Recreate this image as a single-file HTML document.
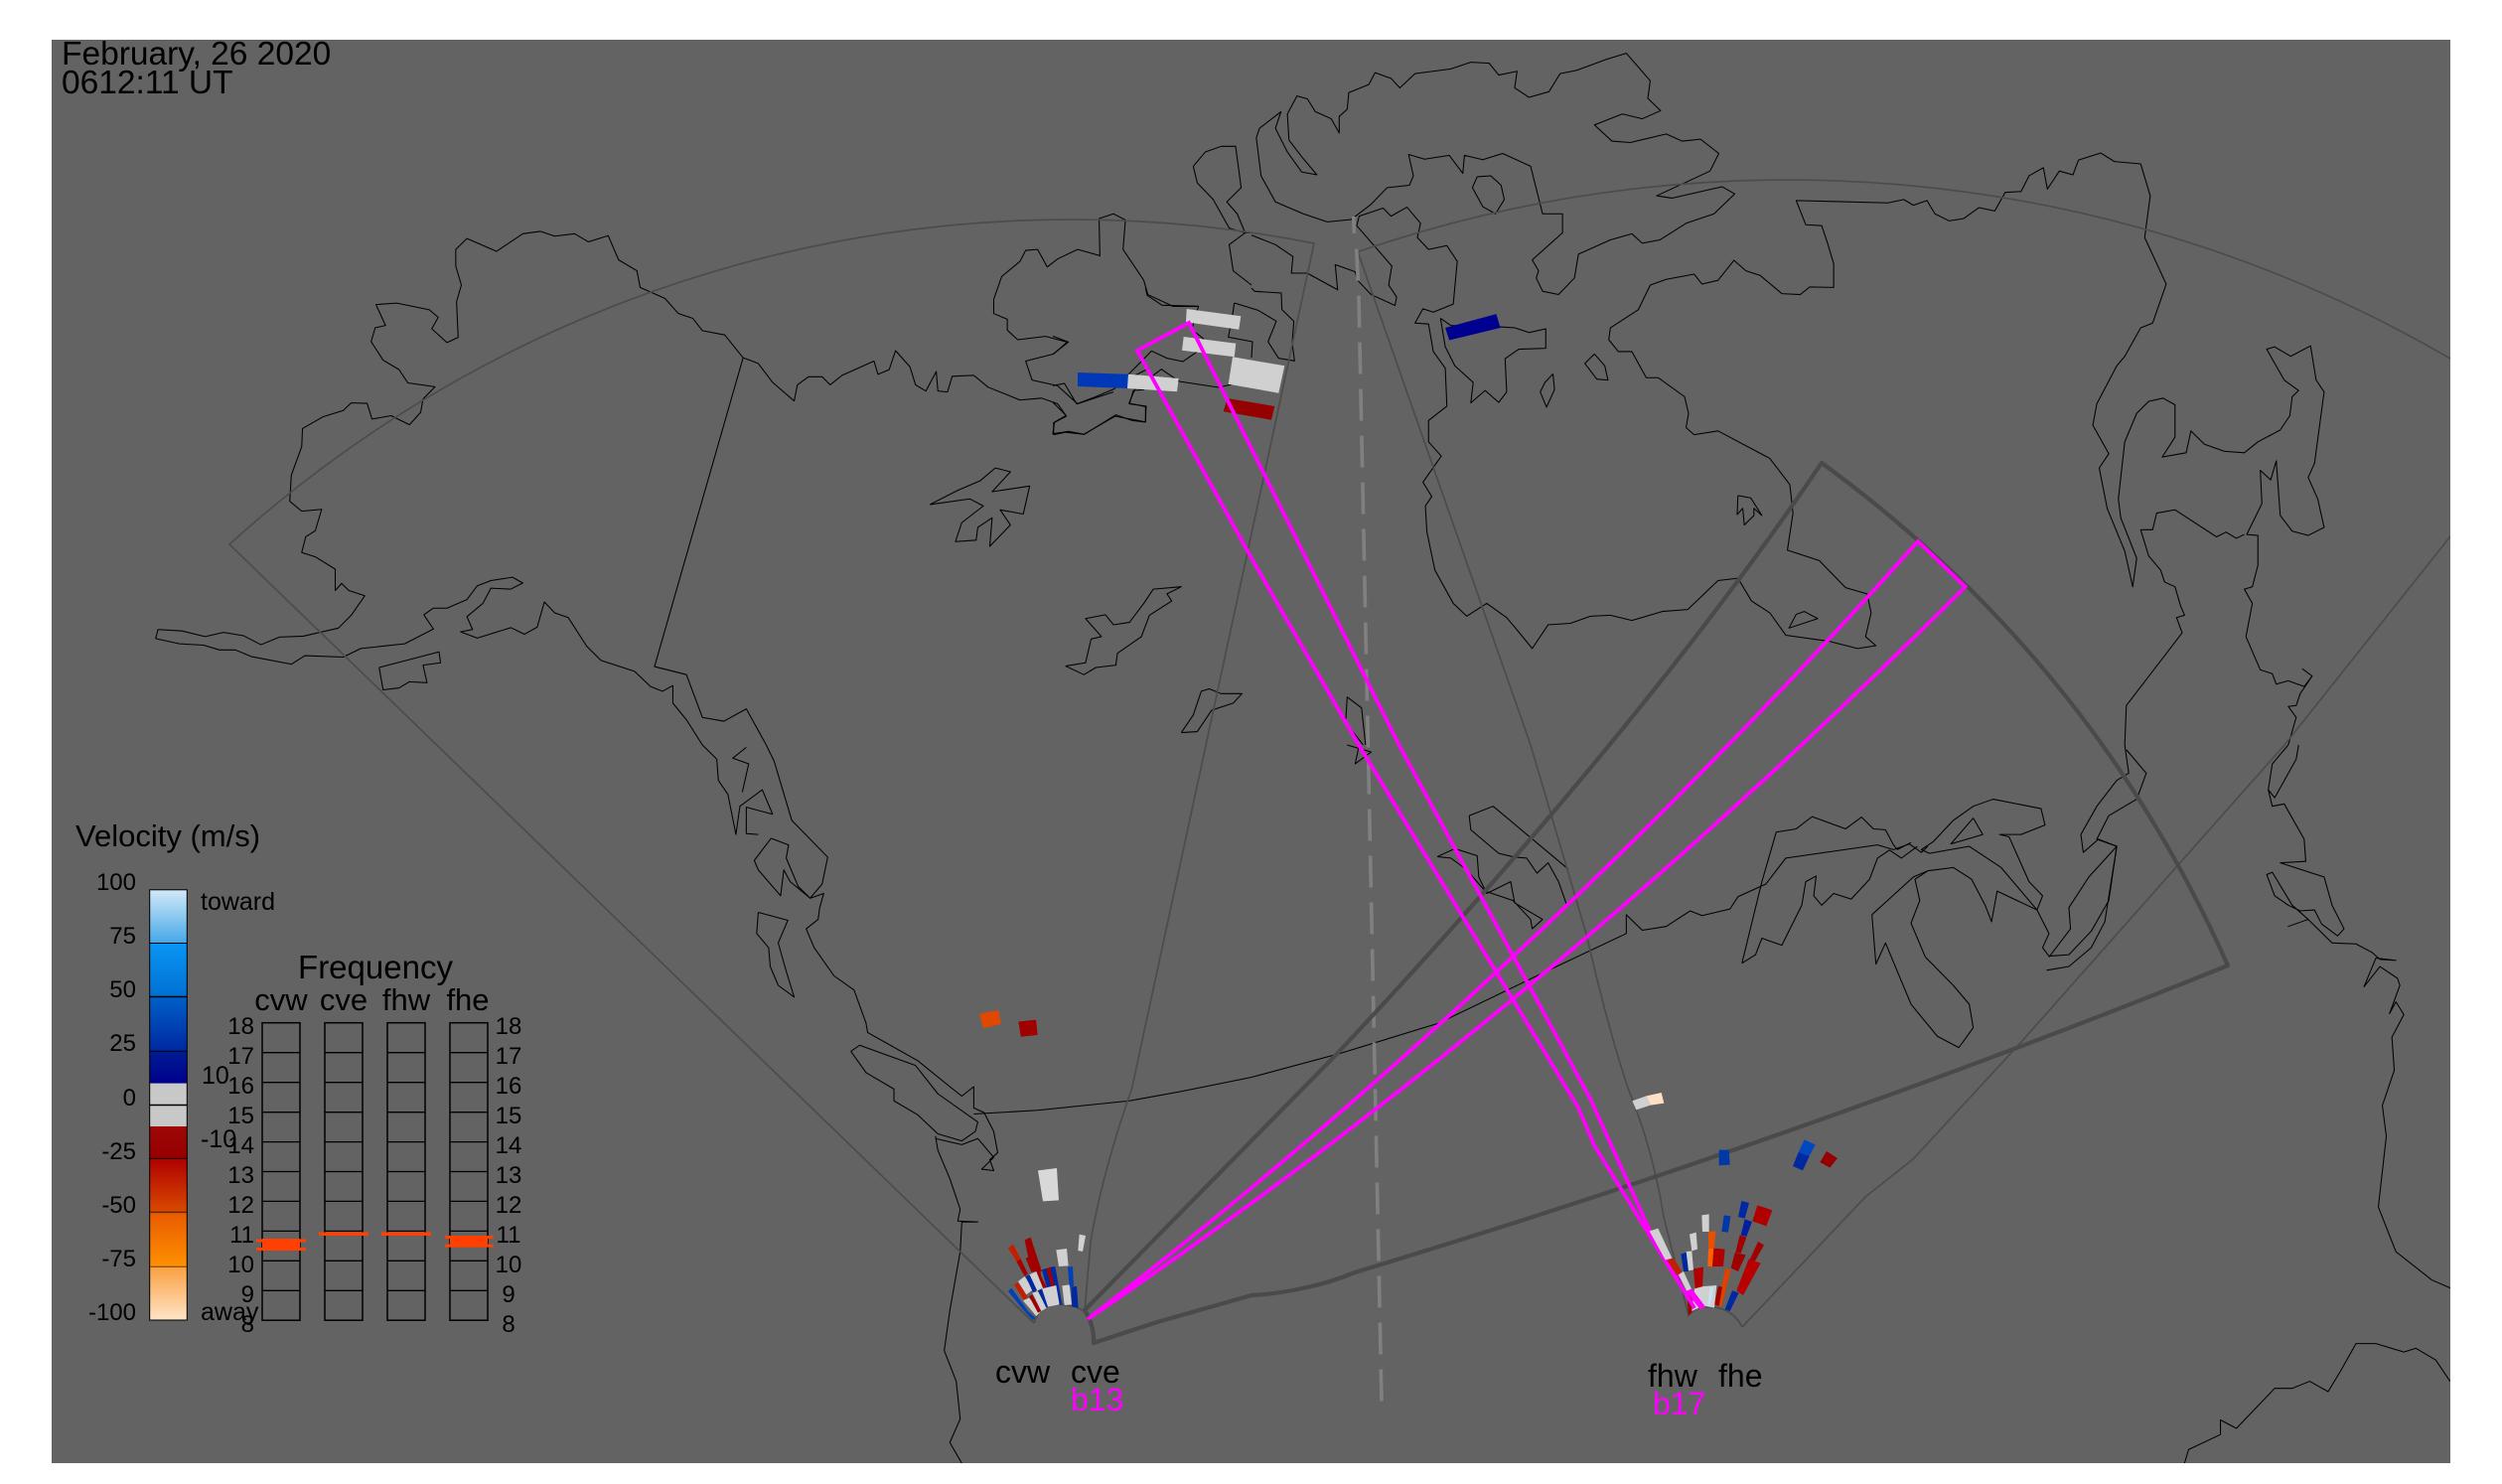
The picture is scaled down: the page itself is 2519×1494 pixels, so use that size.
<!DOCTYPE html>
<html><head><meta charset="utf-8"><title>February 26 2020</title>
<style>
html,body{margin:0;padding:0;background:#fff}
svg{display:block}
text{font-family:"Liberation Sans",sans-serif;fill:#000}
polyline{fill:none;stroke:#000;stroke-width:1.05;vector-effect:non-scaling-stroke;stroke-linejoin:round}
.t path{fill:none;stroke:#4c4c4c;stroke-width:1.7}
.k path{fill:none;stroke:#4a4a4a;stroke-width:4.2;stroke-linejoin:round}
.m path{fill:none;stroke:#ff00ff;stroke-width:3.8;stroke-linejoin:miter}
.g{fill:#d0d0d0}.b1{fill:#0028a0}.b2{fill:#0040b8}.r1{fill:#a00000}.r2{fill:#b80000}.o1{fill:#e04800}
</style></head><body>
<svg width="2519" height="1494" viewBox="0 0 2519 1494" xmlns="http://www.w3.org/2000/svg">
<defs>
<clipPath id="c"><rect x="52" y="40" width="2415" height="1433"/></clipPath>
<linearGradient id="g1" x1="0" y1="0" x2="0" y2="1"><stop offset="0" stop-color="#d2e9f8"/><stop offset="1" stop-color="#45a8e8"/></linearGradient>
<linearGradient id="g2" x1="0" y1="0" x2="0" y2="1"><stop offset="0" stop-color="#0a96f5"/><stop offset="1" stop-color="#0070d2"/></linearGradient>
<linearGradient id="g3" x1="0" y1="0" x2="0" y2="1"><stop offset="0" stop-color="#0060c8"/><stop offset="1" stop-color="#0028a0"/></linearGradient>
<linearGradient id="g4" x1="0" y1="0" x2="0" y2="1"><stop offset="0" stop-color="#001c94"/><stop offset="1" stop-color="#00008c"/></linearGradient>
<linearGradient id="g5" x1="0" y1="0" x2="0" y2="1"><stop offset="0" stop-color="#a00808"/><stop offset="1" stop-color="#960000"/></linearGradient>
<linearGradient id="g6" x1="0" y1="0" x2="0" y2="1"><stop offset="0" stop-color="#b00000"/><stop offset="1" stop-color="#d84a00"/></linearGradient>
<linearGradient id="g7" x1="0" y1="0" x2="0" y2="1"><stop offset="0" stop-color="#e85a00"/><stop offset="1" stop-color="#ff9000"/></linearGradient>
<linearGradient id="g8" x1="0" y1="0" x2="0" y2="1"><stop offset="0" stop-color="#f9a040"/><stop offset="1" stop-color="#ffe4c8"/></linearGradient>
</defs>
<rect width="2519" height="1494" fill="#fff"/>
<rect x="52" y="40" width="2415" height="1433" fill="#636363"/>
<g clip-path="url(#c)">

<!-- coastlines -->
<g transform="scale(.8036 .4783)">
<polyline points="195,1344 198,1325 228,1328 257,1340 280,1331 305,1338 327,1357 350,1341 380,1339 424,1322 440,1295 457,1254 437,1243 428,1228 420,1243 420,1198 395,1172 378,1163 383,1130 395,1117 403,1072 378,1076 363,1055 365,1000 378,940 379,902 405,877 430,864 440,848 460,849 466,882 490,875 513,894 527,868 530,840 545,814 511,806 500,778 480,758 465,719 470,690 483,685 471,641 497,638 538,652 549,668 541,692 560,721 574,710 572,635 578,600 571,560 571,525 585,502 622,529 655,492 677,487 695,497 720,492 737,509 762,496 775,547 798,570 802,605 833,628 850,660 868,670 880,696 908,705 931,753 950,765 968,805 995,844 999,810 1013,793 1030,793 1040,810 1055,790 1095,760 1100,788 1114,778 1122,738 1140,772 1147,810 1160,823 1173,782 1175,823 1187,825 1193,792 1220,790 1238,815 1278,842 1305,838 1325,850 1336,876 1320,890 1320,915 1335,910 1358,914 1397,876 1435,888 1436,855 1415,850 1420,822 1433,820 1415,796 1440,775"/>
<polyline points="195,1344 225,1355 255,1358 275,1368 295,1368 315,1382 365,1398 382,1380 430,1383 452,1365 507,1355 543,1324 531,1294 543,1280 560,1280 585,1262 598,1233 615,1222 642,1215 655,1227 640,1240 615,1238 605,1270 585,1298 592,1325 577,1330 598,1343 640,1321 657,1335 673,1320 682,1267 695,1290 712,1300 735,1360 753,1390 795,1413 815,1445 830,1455 843,1443 843,1480 860,1515 880,1568"/>
<polyline points="931,753 820,1403 860,1420 880,1510 907,1518 935,1492 960,1568"/>
<polyline points="1165,1062 1200,1032 1228,1012 1247,985 1266,993 1243,1035 1290,1023 1282,1082 1253,1073 1266,1105 1240,1150 1243,1090 1225,1110 1223,1137 1197,1140 1205,1100 1232,1065 1215,1050 1165,1062"/>
<polyline points="1335,1402 1360,1395 1367,1345 1380,1340 1360,1302 1385,1294 1395,1315 1415,1310 1433,1270 1445,1240 1480,1235 1462,1250 1468,1265 1440,1295 1430,1340 1400,1375 1398,1400 1373,1405 1358,1420 1335,1402"/>
<polyline points="1480,1542 1495,1505 1505,1455 1515,1450 1530,1460 1556,1460 1545,1480 1518,1495 1500,1540 1480,1542"/>
<polyline points="475,1405 550,1372 552,1395 530,1400 535,1437 513,1435 500,1448 480,1452 475,1405"/>
<polyline points="1495,350 1510,320 1530,308 1548,308 1555,395 1537,425 1550,450 1560,490 1540,515 1545,570 1568,600"/>
<polyline points="1495,350 1500,385 1520,420 1540,480 1560,490 1568,490"/>
<polyline points="1378,540 1377,460 1395,450 1410,463 1407,525 1433,590 1438,620 1470,645 1500,645"/>
<polyline points="1378,538 1350,525 1325,545 1312,562 1300,525 1285,527 1278,550 1255,582 1245,630 1245,660 1262,672 1262,695 1275,715 1310,708 1337,720 1320,745 1285,760 1293,800 1325,812 1350,850 1395,825"/>
</g>

<g transform="translate(1060 290) scale(.3333)">
<polyline points="0,145 47,163 0,200"/>
<polyline points="0,295 35,288 72,350 125,330 185,305 298,190 345,212 393,222 432,195 455,153 420,125 440,55 330,52 285,22 280,0"/>
<polyline points="0,345 40,385 5,405 0,440 47,433 95,442 190,383 240,400 280,405 280,358 230,348 248,305 328,245 382,282 500,300 545,290"/>
<polyline points="548,45 620,67 675,100 650,162 682,212 730,220 723,165 728,100 692,65 690,15 610,10 600,0"/>
<polyline points="548,45 540,100 530,148 603,162 600,210"/>
</g>

<g transform="translate(1260 0) scale(.8029 .4783)">
<polyline points="0,495 30,515 52,540 50,575 70,575 108,610 105,557 130,572 133,590 150,620 180,643 182,625 172,600 176,560 132,475 135,455 165,438 175,455 195,436 212,470 208,500 222,525 245,517 258,550 253,640 228,657 215,650 205,680 222,682 228,740 243,775 245,855 222,885 222,930 238,960 215,1015 226,1045 218,1065 220,1120 230,1200 253,1270 270,1297 295,1270 320,1300 335,1330 352,1365 372,1315 400,1312 425,1297 450,1295 477,1306 515,1287 547,1283 585,1222 610,1217 627,1265 650,1290 670,1337 725,1350 760,1365 783,1359 770,1340 777,1290 772,1250 745,1237 712,1180 672,1158 679,1080 675,1020 650,965 585,907 555,915 545,900 548,870 543,835 510,795 495,795 477,740 460,740 448,715 450,690 485,652 500,600 520,588 555,577 565,598 585,590 605,548 620,570 638,580 665,618 688,620 700,604 730,605 730,555 722,510 715,475 695,473 683,422 730,424 798,427 818,420 830,432 847,422 857,450 875,465 893,460 912,437 932,444 945,405 965,403 975,370 993,353 998,398 1013,360 1030,368 1037,337 1065,322 1082,340 1115,345 1127,412 1120,500 1147,598 1130,680 1115,690 1095,750 1085,770 1060,850 1055,895 1075,955 1063,985 1073,1070 1095,1160 1105,1235 1110,1175 1090,1090 1087,1050 1095,930 1110,870 1125,845 1143,838 1158,852 1158,920 1142,962 1172,953 1178,907 1195,935 1220,950 1245,953 1262,930 1290,905 1302,875 1305,835 1313,822 1295,800 1273,735 1283,730 1303,750 1328,728 1335,800 1345,825 1333,975 1325,1005 1337,1050 1345,1110 1325,1127 1305,1118 1290,1085 1285,970 1278,1010 1265,990 1267,1060 1248,1125 1262,1127 1262,1190 1255,1235 1245,1240 1255,1270 1247,1340 1265,1410 1280,1418 1285,1440 1300,1433 1320,1445 1330,1423 1318,1408 1330,1423 1315,1460 1310,1485 1300,1487 1310,1510 1300,1568"/>
<polyline points="6,290 10,270 37,235 30,270 45,320 63,362 82,368 63,330 47,295 45,240 57,202 70,208 80,235 100,250 110,280 110,245 120,230 122,195 147,178 155,153 175,165 186,185 205,155 250,145 275,131 298,133 310,158 333,150 330,185 348,205 373,193 387,155 408,148 445,125 470,112 500,170 497,207 513,233 490,250 465,240 430,263 452,297 475,300 520,282 540,297 563,293 586,323 575,360 530,395 508,412 527,417 590,393 606,408 580,450 545,470 512,505 490,512 477,492 450,505 410,535 405,585 385,620 365,613 357,585 360,570 352,547 390,490 390,450 365,450 350,350 315,323 290,336 267,327 265,365 248,327 217,335 197,325 203,370 198,390 170,395 150,430 125,462 95,467 65,450 30,425 12,370 6,290"/>
<polyline points="283,372 300,370 313,390 317,420 306,450 290,435 277,395 283,372"/>
<polyline points="237,670 250,685 312,688 330,690 348,700 369,692 369,733 335,735 318,755 320,825 310,847 293,822 275,848 278,805 255,770 243,730 237,670"/>
<polyline points="430,745 443,770 447,800 433,798 418,765 430,745"/>
<polyline points="378,787 380,820 370,857 362,825 368,805 378,787"/>
<polyline points="610,1043 626,1048 640,1085 630,1070 630,1085 618,1105 616,1070 609,1083 610,1043"/>
<polyline points="683,1293 693,1287 710,1302 674,1322 683,1293"/>
<polyline points="1115,1115 1130,1115 1135,1080 1158,1073 1210,1130 1222,1120 1235,1133 1245,1125"/>
<polyline points="1115,1115 1125,1170 1140,1200 1145,1225 1158,1235 1165,1275 1170,1295 1160,1300 1167,1332 1097,1485 1095,1568"/>
<polyline points="120,1467 138,1490 143,1568"/>
<polyline points="120,1467 118,1520 140,1568"/>
</g>

<g transform="translate(0 750) scale(.8036 .4745)">
<polyline points="880,0 898,30 900,75 912,105 922,190 927,130 955,95 968,147 935,132 935,188 950,190"/>
<polyline points="935,5 918,28 938,40 930,100"/>
<polyline points="960,0 970,35 992,160 1037,238 1030,295 1015,325 1032,315 1027,345 1025,370 1010,390 1020,430 1045,490 1070,520 1085,590 1087,610 1150,670 1190,725 1205,745 1220,725 1220,770 1233,780 1245,820 1250,865 1240,880 1245,903 1230,900 1245,875 1225,835 1205,848 1172,835"/>
<polyline points="1220,783 1300,775 1415,755 1480,735 1568,705"/>
<polyline points="1066,650 1077,637 1147,680 1175,740 1225,800 1222,820 1205,840 1175,825 1150,785 1120,755 1120,730 1085,695 1066,650"/>
<polyline points="950,355 987,372 975,420 985,480 995,535 975,510 965,470 963,430 948,400 950,355"/>
<polyline points="966,198 988,212 985,240 1000,300 1015,325 990,290 982,265 978,320 950,265 945,245 966,198"/>
<polyline points="1172,830 1175,860 1190,920 1203,985 1200,1010 1225,1012 1205,1012 1203,1075 1190,1200 1183,1285 1198,1350 1203,1430 1190,1480 1205,1524"/>
</g>

<g transform="translate(1260 750) scale(.8029 .4745)">
<polyline points="0,705 110,655 235,590 370,480 470,400 470,360 490,393 520,385 550,352 565,362 600,348 610,322 645,295 670,240 785,212 805,222 825,210 840,228 848,215"/>
<polyline points="273,150 303,130 397,263"/>
<polyline points="273,150 275,180 310,230 330,238 345,240 358,272 372,250 385,290 395,338"/>
<polyline points="233,237 255,220 283,235 285,280 295,315 325,290 330,335 365,370 352,390 350,370 328,330 293,310 270,265 250,240 233,237"/>
<polyline points="120,0 150,15 130,40 135,0"/>
<polyline points="615,463 640,290 658,185 683,178 703,152 745,178 765,153 780,178 795,180 805,212 810,222 827,207"/>
<polyline points="615,463 632,445 640,410 665,425 690,340 695,290 708,278 705,320 715,340 730,315 752,327 775,285 785,240 800,223 815,240 835,215"/>
<polyline points="778,360 783,465 795,420 827,550 860,618 887,642 905,600 900,550 880,510 845,450 827,378 838,330 832,285 848,267 880,260 903,285 920,340 928,375 935,310 985,350 992,320 975,290 950,195 938,190 965,190 995,170 990,135 930,115 905,130 880,160 855,205 840,222 850,230 900,215 940,260 985,350"/>
<polyline points="778,360 830,280 848,267"/>
<polyline points="905,155 917,190 877,210 905,155"/>
<polyline points="985,350 1000,400 992,430 1000,448 1025,445 1053,395 1075,330 1085,215 1050,280 1025,345 1027,390 1000,450"/>
<polyline points="997,478 1025,470 1053,430 1070,375 1085,215 1062,200 1043,228 1040,190 1060,130 1085,75 1100,60 1095,0"/>
<polyline points="1085,215 1060,200 1075,150 1110,115 1122,60 1097,10"/>
<polyline points="1300,0 1280,40 1275,95 1283,112 1310,30 1313,0"/>
<polyline points="1275,95 1280,130 1295,125 1320,200 1322,247 1290,250 1345,280 1355,340 1370,390 1362,405 1342,380 1333,350 1315,352 1300,340 1283,320 1273,275 1280,270 1305,340 1325,370 1300,385 1325,370 1355,420 1385,422 1405,440 1415,455 1435,457 1410,452 1395,513 1415,470 1437,495 1440,510 1427,570 1435,545 1445,572 1430,620 1433,690 1418,765 1423,830 1413,980 1435,1075 1480,1135 1503,1152"/>
<polyline points="1170,1524 1175,1495 1215,1463 1215,1432 1235,1450 1283,1365 1305,1365 1327,1350 1350,1372 1365,1330 1385,1270 1410,1270 1445,1288 1460,1280 1485,1305 1503,1350"/>
</g>

<!-- thin fields of view -->
<g class="t">
<path d="M1041,1332 L231,548 A1261,1261 0 0 1 1323,245 L1139.5,1096 Q1110,1180 1098,1250 L1092,1320 Q1072,1309 1052,1316 Q1044,1322 1041,1332"/>
<path d="M1754,1336 L1878,1205 L1926,1167 L2035,1049 L2300,750 L2467,540"/>
<path d="M1754,1336 Q1745,1318 1725,1316 Q1708,1314 1700,1324 L1675,1225 Q1665,1160 1640,1098 Q1620,1040 1597,940 L1541,750 L1367,253.5 A1328,1328 0 0 1 2467,361"/>
</g>

<!-- dashed meridian -->
<path d="M1362.7,218 L1363.4,235" stroke="#808080" stroke-width="3.6" fill="none"/>
<path d="M1365.7,250.7 L1368,298 L1391,1412" stroke="#808080" stroke-width="3.6" fill="none" stroke-dasharray="32 15"/>

<!-- thick field of view -->
<g class="k">
<path d="M1092,1319 L1344,1063 Q1652,735 1834,466 Q2106,664 2243,972 Q1811,1146 1364,1281 Q1340,1291 1316,1296 Q1285,1303 1260,1304 L1165,1331 L1101,1352 Q1102,1335 1092,1319 Z"/>
</g>

<!-- data patches -->
<polygon class="g" points="1194.7,311 1249.3,318.3 1247.3,331.7 1194,324.3"/>
<polygon class="g" points="1191.7,339 1244.3,345.7 1242.7,359.3 1190,352.7"/>
<polygon class="g" points="1241,359.3 1293.3,368.3 1287.3,395.7 1236.7,386.7"/>
<polygon points="1085,375 1136,376.7 1135,391 1085,389" fill="#0038b8"/>
<polygon class="g" points="1136,376.7 1186.7,381 1185,394.3 1135,391"/>
<polygon points="1235.7,401 1283.3,409 1280,422.7 1231.7,414.3" fill="#960000"/>
<g transform="translate(1260 0) scale(.8029 .4783)"><polygon points="243,690 307,661 312,690 248,716" fill="#000090"/></g>
<g transform="translate(0 750) scale(.8036 .4745)"><polygon points="1227,570 1251,563 1254,592 1232,601" fill="#e04800"/><polygon points="1276,587 1298,583 1300,615 1279,619" fill="#a00000"/></g>

<g transform="translate(980 1150) scale(.3333)">
<polygon points="195,85 252,78 258,175 210,178" fill="#d8d8d8"/>
<polygon class="g" points="320,278 339,282 330,330 316,327"/>
<polygon class="g" points="250,325 282,321 287,373 258,375"/>
<polygon class="b2" points="285,377 300,375 303,435 290,437"/>
<polygon points="105,320 120,308 143,352 132,362" fill="#c81c00"/>
<polygon class="r1" points="130,360 143,352 165,398 155,405"/>
<polygon class="r1" points="155,295 173,287 195,355 205,405 222,440 207,440 190,390 165,345"/>
<polygon class="r1" points="158,350 190,340 207,390 175,392"/>
<polygon class="b2" points="105,450 115,440 165,510 187,530 180,538 150,505"/>
<polygon class="g" points="135,420 155,405 180,445 160,460"/>
<polygon class="g" points="168,400 190,390 210,440 190,450"/>
<polygon points="123,430 135,423 165,470 152,475" fill="#c81c00"/>
<polygon class="b1" points="158,405 170,400 192,447 180,453"/>
<polygon class="b1" points="207,385 222,380 235,435 222,440"/>
<polygon class="r1" points="220,382 232,377 247,435 235,437"/>
<polygon class="b1" points="232,377 247,375 268,490 258,492"/>
<polygon class="g" points="150,478 168,470 205,510 190,525"/>
<polygon class="r1" points="168,465 178,460 205,510 195,515"/>
<polygon class="g" points="178,455 195,450 222,500 205,510"/>
<polygon class="b1" points="195,448 207,443 230,495 220,500"/>
<polygon class="g" points="207,442 250,432 260,490 225,497"/>
<polygon class="g" points="268,433 290,430 297,490 275,492"/>
<polygon class="b1" points="295,437 312,435 317,500 298,497"/>
</g>

<g transform="translate(1640 1090) scale(.3333)">
<polygon class="g" points="10,55 52,40 65,68 22,82"/>
<polygon points="52,40 98,30 106,62 65,68" fill="#ffe0c4"/>
<polygon points="272,203 302,203 305,248 272,250" fill="#0038a8"/>
<polygon points="530,172 563,187 545,222 512,210" fill="#0048c0"/>
<polygon class="b1" points="512,210 545,222 525,265 495,252"/>
<polygon points="597,207 630,228 607,257 577,240" fill="#960000"/>
<polygon class="b1" points="340,357 363,363 350,410 330,405"/>
<polygon points="388,370 433,385 415,433 373,418" fill="#b00000"/>
<polygon class="g" points="220,400 242,397 242,450 222,450"/>
<polygon points="287,400 307,403 300,452 280,450" fill="#0038a8"/>
<polygon points="350,412 372,420 355,465 338,460" fill="#0020a0"/>
<polygon class="g" points="183,458 203,452 207,503 190,508"/>
<polygon points="240,450 262,448 258,500 240,502" fill="#e85000"/>
<polygon points="240,502 256,500 255,555 238,555" fill="#ff6000"/>
<polygon points="256,500 290,503 285,555 252,555" fill="#b00000"/>
<polygon class="r1" points="335,460 355,467 338,515 322,513"/>
<polygon class="r1" points="320,513 353,520 330,570 308,560"/>
<polygon class="r1" points="390,480 408,490 380,540 365,535"/>
<polygon class="r2" points="362,532 398,545 345,642 325,628"/>
<polygon class="b1" points="157,518 175,512 180,570 165,570"/>
<polygon class="g" points="173,510 190,508 195,565 180,568"/>
<polygon points="195,562 225,557 222,620 200,622" fill="#b00000"/>
<polygon points="292,560 308,565 280,675 266,675" fill="#e04000"/>
<polygon class="b1" points="312,628 332,635 305,690 290,685"/>
<polygon class="r1" points="258,670 270,615 282,617 272,675"/>
<polygon class="g" points="198,622 225,615 265,612 258,680 232,675 212,680 190,690"/>
<polygon points="245,617 255,617 245,675 238,675" fill="#c0e4f8"/>
<polygon class="r1" points="175,640 190,635 190,695 180,703"/>
</g>

<!-- magenta beams -->
<g class="m">
<path d="M1931,545 Q1532,991 1095,1328 Q1552,1017 1978.6,590.7 Z"/>
<path d="M1713,1317 L1661,1239 L1601,1106 L1408.5,750 L1197,325 L1145,353 L1260,562 L1368,750 L1589,1115 L1605,1153 L1706,1317"/>
</g>
<g transform="translate(1640 1090) scale(.3333)">
<polygon class="g" points="62,448 88,440 130,530 110,535"/>
<polygon points="115,537 135,530 160,570 145,582" fill="#c02000"/>
<polygon class="g" points="150,580 165,570 190,625 175,630"/>
<polygon points="172,630 190,622 232,678 215,685" fill="#ff00ff"/>
</g>

<!-- legend -->
<rect x="150.7" y="895.8" width="37.6" height="53.7" fill="url(#g1)"/>
<rect x="150.7" y="949.5" width="37.6" height="54" fill="url(#g2)"/>
<rect x="150.7" y="1003.5" width="37.6" height="54.7" fill="url(#g3)"/>
<rect x="150.7" y="1058.2" width="37.6" height="32.4" fill="url(#g4)"/>
<rect x="150.7" y="1090.6" width="37.6" height="43.4" fill="#c8c8c8"/>
<rect x="150.7" y="1134" width="37.6" height="32.4" fill="url(#g5)"/>
<rect x="150.7" y="1166.4" width="37.6" height="54" fill="url(#g6)"/>
<rect x="150.7" y="1220.4" width="37.6" height="54.8" fill="url(#g7)"/>
<rect x="150.7" y="1275.2" width="37.6" height="53.8" fill="url(#g8)"/>
<rect x="150.7" y="895.8" width="37.6" height="433.2" fill="none" stroke="#000" stroke-width="1"/>
<g stroke="#000" stroke-width="1">
<line x1="151" y1="949.5" x2="188" y2="949.5"/><line x1="151" y1="1003.5" x2="188" y2="1003.5" stroke-width="1.5"/><line x1="151" y1="1058.2" x2="188" y2="1058.2"/><line x1="151" y1="1112.5" x2="188" y2="1112.5" stroke-width="1.5"/><line x1="151" y1="1166.4" x2="188" y2="1166.4"/><line x1="151" y1="1220.4" x2="188" y2="1220.4" stroke="#642800" stroke-width="1.5"/><line x1="151" y1="1275.2" x2="188" y2="1275.2" stroke="#643800"/>
</g>
<text x="76" y="852" font-size="31">Velocity (m/s)</text>
<g font-size="24" text-anchor="end">
<text x="137" y="896">100</text><text x="137" y="950">75</text><text x="137" y="1004">50</text><text x="137" y="1058">25</text><text x="137" y="1113">0</text><text x="137" y="1167">-25</text><text x="137" y="1221">-50</text><text x="137" y="1275">-75</text><text x="137" y="1329">-100</text>
</g>
<g font-size="25">
<text x="202" y="916">toward</text><text x="202" y="1329">away</text><text x="203" y="1091">10</text><text x="202" y="1155">-10</text>
</g>
<text x="378" y="985" font-size="33" text-anchor="middle">Frequency</text>
<g font-size="31" text-anchor="middle">
<text x="283" y="1017">cvw</text><text x="346" y="1017">cve</text><text x="409" y="1017">fhw</text><text x="471" y="1017">fhe</text>
</g>
<g fill="none" stroke="#000" stroke-width="1.5">
<rect x="264" y="1029.7" width="38" height="299.5"/><rect x="327" y="1029.7" width="38" height="299.5"/><rect x="390" y="1029.7" width="38" height="299.5"/><rect x="453" y="1029.7" width="38" height="299.5"/>
</g>
<g stroke="#000" stroke-width="1.3">
<path d="M264 1059.7H302M327 1059.7H365M390 1059.7H428M453 1059.7H491M264 1089.7H302M327 1089.7H365M390 1089.7H428M453 1089.7H491M264 1119.7H302M327 1119.7H365M390 1119.7H428M453 1119.7H491M264 1149.6H302M327 1149.6H365M390 1149.6H428M453 1149.6H491M264 1179.5H302M327 1179.5H365M390 1179.5H428M453 1179.5H491M264 1209.4H302M327 1209.4H365M390 1209.4H428M453 1209.4H491M264 1239.4H302M327 1239.4H365M390 1239.4H428M453 1239.4H491M264 1269.3H302M327 1269.3H365M390 1269.3H428M453 1269.3H491M264 1299.3H302M327 1299.3H365M390 1299.3H428M453 1299.3H491"/>
</g>
<g fill="#ff4000">
<rect x="264" y="1247" width="38" height="12"/><rect x="258" y="1247.5" width="50" height="3"/><rect x="258" y="1256" width="50" height="3"/>
<rect x="321" y="1240.5" width="50" height="3.5"/><rect x="384" y="1240.5" width="50" height="3.5"/>
<rect x="453" y="1244" width="38" height="11.6"/><rect x="447.7" y="1244" width="49" height="3"/><rect x="447.7" y="1252.6" width="49" height="3"/>
</g>
<g font-size="24" text-anchor="end">
<text x="256" y="1041">18</text><text x="256" y="1071">17</text><text x="256" y="1101">16</text><text x="256" y="1131">15</text><text x="256" y="1161">14</text><text x="256" y="1191">13</text><text x="256" y="1221">12</text><text x="256" y="1251">11</text><text x="256" y="1281">10</text><text x="256" y="1311">9</text><text x="256" y="1341">8</text>
</g>
<g font-size="24" text-anchor="middle">
<text x="512" y="1041">18</text><text x="512" y="1071">17</text><text x="512" y="1101">16</text><text x="512" y="1131">15</text><text x="512" y="1161">14</text><text x="512" y="1191">13</text><text x="512" y="1221">12</text><text x="512" y="1251">11</text><text x="512" y="1281">10</text><text x="512" y="1311">9</text><text x="512" y="1341">8</text>
</g>

<!-- titles and radar labels -->
<text x="62" y="65" font-size="33.5">February, 26 2020</text>
<text x="62" y="94" font-size="33.5">0612:11 UT</text>
<g font-size="32">
<text x="1002" y="1392">cvw</text><text x="1078" y="1392">cve</text>
<text x="1659" y="1396">fhw</text><text x="1730" y="1396">fhe</text>
<text x="1078" y="1420" style="fill:#ff00ff">b13</text>
<text x="1664" y="1424" style="fill:#ff00ff">b17</text>
</g>
</g>
</svg>
</body></html>
